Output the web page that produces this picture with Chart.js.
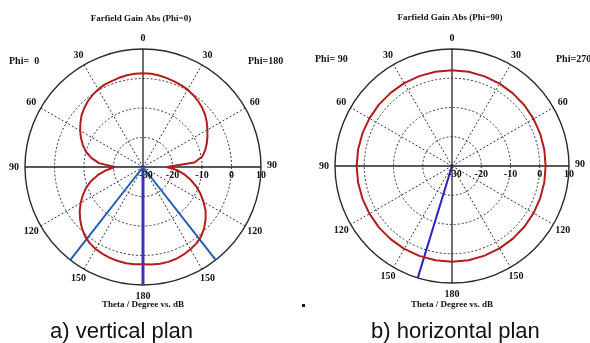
<!DOCTYPE html>
<html>
<head>
<meta charset="utf-8">
<script src="https://cdn.jsdelivr.net/npm/chart.js@4.4.1/dist/chart.umd.min.js"></script>
<style>
  html, body { margin: 0; padding: 0; background: #fff; }
  #wrap { position: relative; width: 590px; height: 343px; overflow: hidden; }
  #wrap canvas { position: absolute; left: 0; top: 0; }
  .cap { position: absolute; font-family: "Liberation Sans", Arial, sans-serif; font-size: 22px;
         color: #111; white-space: nowrap; line-height: 1; }
</style>
</head>
<body>
<div id="wrap">
  <canvas id="vertical" width="590" height="343"></canvas>
  <canvas id="horizontal" width="590" height="343"></canvas>
  <div class="cap" style="left:50px; top:320px;">a) vertical plan</div>
  <div class="cap" style="left:371px; top:320px;">b) horizontal plan</div>
</div>
<script>
// ---- Vertical cut: theta sweep, gain in dB ----
const thetaVertical = [0, 5, 10, 15, 20, 25, 30, 35, 40, 45, 50, 55, 60, 65, 70, 75, 80, 85, 90,
                       95, 100, 105, 110, 115, 120, 125, 130, 135, 140, 145, 150, 155, 160, 165, 170, 175, 180];
const gainPhi0 = [1.8, 1.7, 1.6, 1.3, 1.0, 0.8, 0.4, -0.2, -0.9, -1.8, -2.8, -4.1, -5.4, -6.8, -8.3, -10.0, -12.2, -15.0, -20.5,
                  -17.5, -14.5, -11.8, -9.5, -7.5, -5.6, -3.8, -2.2, -0.7, 0.6, 1.5, 2.1, 2.5, 2.8, 3.0, 3.1, 3.1, 3.0];
const gainPhi180 = [1.8, 1.7, 1.5, 1.2, 0.9, 0.6, 0.3, -0.3, -0.9, -1.6, -2.5, -3.6, -4.8, -5.9, -7.0, -8.2, -9.6, -12.5, -22.0,
                    -18.5, -15.8, -13.3, -10.8, -8.5, -6.3, -4.1, -2.3, -0.7, 0.7, 1.6, 2.2, 2.7, 3.1, 3.3, 3.3, 3.2, 3.0];

// ---- Horizontal cut ----
const thetaHorizontal = [0, 10, 20, 30, 40, 50, 60, 70, 80, 90, 100, 110, 120, 130, 140, 150, 160, 170, 180];
const gainPhi90 = [2.75, 2.75, 2.7, 2.7, 2.65, 2.65, 2.6, 2.6, 2.6, 2.6, 2.6, 2.6, 2.6, 2.65, 2.65, 2.7, 2.7, 2.75, 2.75];
const gainPhi270 = [2.75, 2.7, 2.6, 2.5, 2.4, 2.3, 2.2, 2.1, 2.05, 2.0, 2.05, 2.1, 2.2, 2.3, 2.4, 2.5, 2.6, 2.7, 2.75];

// ---- Marker directions (theta, degrees) ----
const markersPhi0 = [142];
const markersPhi180 = [142];
const boresightPhi0 = [180];
const markersPhi90 = [163];

// ---- Axes ----
const dbTicks = [-30, -20, -10, 0, 10];
const angleTicks = [0, 30, 60, 90, 120, 150, 180];

const DB_MIN = dbTicks[0];
const DB_MAX = dbTicks[dbTicks.length - 1];
const N = 360;
// Radar labels: one per degree clockwise from top; the left half counts theta back down to 0.
const angleLabels = Array.from({ length: N }, (_, i) => (i <= 180 ? i : N - i));

// Index of a theta on the right (clockwise) or left (counter-clockwise) half.
const rightIdx = t => t % N;
const leftIdx = t => (N - t) % N;

function curve(thetas, leftGain, rightGain) {
  const arr = new Array(N).fill(null);
  thetas.forEach((t, k) => { arr[leftIdx(t)] = leftGain[k]; });
  thetas.forEach((t, k) => { arr[rightIdx(t)] = rightGain[k]; });
  return arr;
}

// Rays from the centre (DB_MIN) to the rim (DB_MAX)
function rays(indices) {
  const arr = new Array(N).fill(null);
  indices.forEach(i => { arr[i] = DB_MAX; arr[(i + 1) % N] = DB_MIN; });
  return arr;
}

const serif = '"Liberation Serif", "Times New Roman", serif';

const polarText = {
  id: 'polarText',
  afterDraw(chart, args, o) {
    const r = chart.scales.r;
    const c = chart.ctx;
    c.save();
    c.fillStyle = '#111';
    c.textAlign = 'center';
    c.textBaseline = 'middle';
    c.font = 'bold 10px ' + serif;
    angleTicks.forEach(t => {
      const idxs = (t === 0 || t === 180) ? [rightIdx(t)] : [rightIdx(t), leftIdx(t)];
      idxs.forEach(i => {
        const p = r.getPointPosition(i, r.drawingArea + 11);
        c.fillText(String(t), p.x, p.y - (t === 90 && i === 90 ? 2 : 0));
      });
    });
    dbTicks.forEach((v, k) => {
      const x = r.xCenter + r.getDistanceFromCenterForValue(v) + (k === 0 ? 3 : 0);
      c.fillText(String(v), x, r.yCenter + 8.5);
    });
    // titles
    c.font = 'bold 9px ' + serif;
    c.fillText(o.title, r.xCenter - 2, o.titleY);
    c.fillText('Theta / Degree vs. dB', r.xCenter, 305);
    c.font = 'bold 10px ' + serif;
    c.textAlign = 'left';
    c.fillText(o.phiLeft, o.phiLeftX, o.phiY);
    c.fillText(o.phiRight, o.phiRightX, o.phiY);
    if (o.dot) c.fillRect(o.dot[0], o.dot[1], 3, 3);
    c.restore();
  }
};

function makeChart(id, pad, datasets, textOpts) {
  return new Chart(document.getElementById(id), {
    type: 'radar',
    data: { labels: angleLabels, datasets },
    options: {
      responsive: false,
      animation: false,
      devicePixelRatio: 1,
      layout: { padding: pad },
      plugins: { legend: { display: false }, tooltip: { enabled: false }, polarText: textOpts },
      elements: { point: { radius: 0, hoverRadius: 0 }, line: { tension: 0, fill: false, borderJoinStyle: 'round', borderCapStyle: 'butt' } },
      scales: {
        r: {
          min: DB_MIN, max: DB_MAX,
          ticks: { display: false, stepSize: 10 },
          pointLabels: { display: false },
          grid: {
            circular: true,
            color: ctx => (ctx.tick && ctx.tick.value === DB_MAX ? '#2a2a2a' : '#333'),
            lineWidth: ctx => (ctx.tick && ctx.tick.value === DB_MAX ? 1.4 : 1)
          },
          border: { dash: ctx => (ctx.tick && ctx.tick.value === DB_MAX ? [] : [2, 2]) },
          angleLines: {
            color: ctx => (ctx.index % 30 === 0 ? (ctx.index % 90 === 0 ? '#222' : '#333') : 'rgba(0,0,0,0)'),
            lineWidth: ctx => (ctx.index % 30 === 0 ? (ctx.index % 90 === 0 ? 1.3 : 1) : 0),
            borderDash: ctx => (ctx.index % 90 === 0 ? [] : [2, 2])
          }
        }
      }
    },
    plugins: [polarText]
  });
}

// Vertical plane (Phi = 0 / 180)
makeChart('vertical', { left: 25, right: 329, top: 49, bottom: 58 }, [
  { data: curve(thetaVertical, gainPhi0, gainPhi180), borderColor: '#b41c1c', borderWidth: 2, spanGaps: true },
  { data: rays([...markersPhi0.map(leftIdx), ...markersPhi180.map(rightIdx)]), borderColor: '#1f5fb6', borderWidth: 2, spanGaps: false },
  { data: rays(boresightPhi0.map(leftIdx)), borderColor: '#3a36b2', borderWidth: 3, spanGaps: false }
], { title: 'Farfield Gain Abs (Phi=0)', titleY: 19, phiLeft: 'Phi=  0', phiLeftX: 9, phiRight: 'Phi=180', phiRightX: 248, phiY: 61, dot: [302, 304] });

// Horizontal plane (Phi = 90 / 270)
makeChart('horizontal', { left: 335, right: 21, top: 49, bottom: 60 }, [
  { data: curve(thetaHorizontal, gainPhi90, gainPhi270), borderColor: '#b41c1c', borderWidth: 2, spanGaps: true },
  { data: rays(markersPhi90.map(leftIdx)), borderColor: '#2424c0', borderWidth: 2, spanGaps: false }
], { title: 'Farfield Gain Abs (Phi=90)', titleY: 17.5, phiLeft: 'Phi= 90', phiLeftX: 315, phiRight: 'Phi=270', phiRightX: 556, phiY: 59 });
</script>
</body>
</html>
